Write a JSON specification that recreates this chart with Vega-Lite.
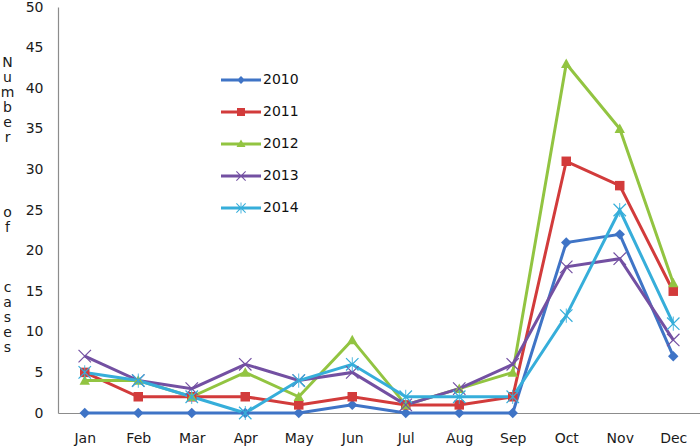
{
  "$schema": "https://vega.github.io/schema/vega-lite/v6.json",
  "width": 642,
  "height": 406,
  "autosize": {"type": "none"},
  "padding": {"left": 58, "top": 7, "right": 0, "bottom": 34},
  "config": {
    "view": {"stroke": null},
    "font": "DejaVu Sans",
    "axis": {"labelFont": "DejaVu Sans", "labelFontSize": 14, "labelColor": "#1a1a1a", "domainColor": "#8c8c8c", "domainWidth": 1.2, "ticks": false, "grid": false}
  },
  "data": {
    "values": [
      {"year": "2010", "month": "Jan", "cases": 0}, {"year": "2010", "month": "Feb", "cases": 0}, {"year": "2010", "month": "Mar", "cases": 0}, {"year": "2010", "month": "Apr", "cases": 0}, {"year": "2010", "month": "May", "cases": 0}, {"year": "2010", "month": "Jun", "cases": 1}, {"year": "2010", "month": "Jul", "cases": 0}, {"year": "2010", "month": "Aug", "cases": 0}, {"year": "2010", "month": "Sep", "cases": 0}, {"year": "2010", "month": "Oct", "cases": 21}, {"year": "2010", "month": "Nov", "cases": 22}, {"year": "2010", "month": "Dec", "cases": 7},
      {"year": "2011", "month": "Jan", "cases": 5}, {"year": "2011", "month": "Feb", "cases": 2}, {"year": "2011", "month": "Mar", "cases": 2}, {"year": "2011", "month": "Apr", "cases": 2}, {"year": "2011", "month": "May", "cases": 1}, {"year": "2011", "month": "Jun", "cases": 2}, {"year": "2011", "month": "Jul", "cases": 1}, {"year": "2011", "month": "Aug", "cases": 1}, {"year": "2011", "month": "Sep", "cases": 2}, {"year": "2011", "month": "Oct", "cases": 31}, {"year": "2011", "month": "Nov", "cases": 28}, {"year": "2011", "month": "Dec", "cases": 15},
      {"year": "2012", "month": "Jan", "cases": 4}, {"year": "2012", "month": "Feb", "cases": 4}, {"year": "2012", "month": "Mar", "cases": 2}, {"year": "2012", "month": "Apr", "cases": 5}, {"year": "2012", "month": "May", "cases": 2}, {"year": "2012", "month": "Jun", "cases": 9}, {"year": "2012", "month": "Jul", "cases": 1}, {"year": "2012", "month": "Aug", "cases": 3}, {"year": "2012", "month": "Sep", "cases": 5}, {"year": "2012", "month": "Oct", "cases": 43}, {"year": "2012", "month": "Nov", "cases": 35}, {"year": "2012", "month": "Dec", "cases": 16},
      {"year": "2013", "month": "Jan", "cases": 7}, {"year": "2013", "month": "Feb", "cases": 4}, {"year": "2013", "month": "Mar", "cases": 3}, {"year": "2013", "month": "Apr", "cases": 6}, {"year": "2013", "month": "May", "cases": 4}, {"year": "2013", "month": "Jun", "cases": 5}, {"year": "2013", "month": "Jul", "cases": 1}, {"year": "2013", "month": "Aug", "cases": 3}, {"year": "2013", "month": "Sep", "cases": 6}, {"year": "2013", "month": "Oct", "cases": 18}, {"year": "2013", "month": "Nov", "cases": 19}, {"year": "2013", "month": "Dec", "cases": 9},
      {"year": "2014", "month": "Jan", "cases": 5}, {"year": "2014", "month": "Feb", "cases": 4}, {"year": "2014", "month": "Mar", "cases": 2}, {"year": "2014", "month": "Apr", "cases": 0}, {"year": "2014", "month": "May", "cases": 4}, {"year": "2014", "month": "Jun", "cases": 6}, {"year": "2014", "month": "Jul", "cases": 2}, {"year": "2014", "month": "Aug", "cases": 2}, {"year": "2014", "month": "Sep", "cases": 2}, {"year": "2014", "month": "Oct", "cases": 12}, {"year": "2014", "month": "Nov", "cases": 25}, {"year": "2014", "month": "Dec", "cases": 11}
    ]
  },
  "encoding": {
    "x": {
      "field": "month", "type": "ordinal",
      "sort": ["Jan", "Feb", "Mar", "Apr", "May", "Jun", "Jul", "Aug", "Sep", "Oct", "Nov", "Dec"],
      "scale": {"type": "point", "padding": 0.5},
      "axis": {"title": null, "labelAngle": 0, "labelPadding": 18}
    },
    "y": {
      "field": "cases", "type": "quantitative",
      "scale": {"domain": [0, 50], "nice": false},
      "axis": {
        "values": [0, 5, 10, 15, 20, 25, 30, 35, 40, 45, 50],
        "labelPadding": 15,
        "title": ["N", "u", "m", "b", "e", "r", "\u200b", "\u200b", "\u200b", "\u200b", "o", "f", "\u200b", "\u200b", "\u200b", "c", "a", "s", "e", "s"],
        "titleAngle": 0,
        "titleAlign": "center",
        "titleBaseline": "middle",
        "titleX": -51,
        "titleY": 55,
        "titleLineHeight": 15,
        "titleFontSize": 14,
        "titleFontWeight": "normal",
        "titleColor": "#1a1a1a"
      }
    },
    "color": {
      "field": "year", "type": "nominal",
      "scale": {"domain": ["2010", "2011", "2012", "2013", "2014"], "range": ["#3F74C6", "#D23B3B", "#92C441", "#7350A2", "#36AEDA"]},
      "legend": {
        "title": null,
        "orient": "none",
        "legendX": 176,
        "legendY": 66,
        "padding": 0,
        "symbolSize": 100,
        "labelOffset": 15,
        "rowPadding": 18,
        "labelFontSize": 14,
        "labelColor": "#111111",
        "symbolStrokeWidth": 0,
        "encode": {
          "symbols": {
            "update": {
              "shape": {"signal": "datum.value === '2010' ? 'M-4,-0.3H4V0.3H-4Z M0,-0.8L0.8,0L0,0.8L-0.8,0Z' : datum.value === '2011' ? 'M-4,-0.3H4V0.3H-4Z M-0.8,-0.8H0.8V0.8H-0.8Z' : datum.value === '2012' ? 'M-4,-0.3H4V0.3H-4Z M0,-0.9L0.9,0.6H-0.9Z' : datum.value === '2013' ? 'M-4,-0.3H4V0.3H-4Z M-1,-0.85L-0.85,-1L1,0.85L0.85,1Z M1,-0.85L-0.85,1L-1,0.85L0.85,-1Z' : 'M-4,-0.3H4V0.3H-4Z M-1,-0.85L-0.85,-1L1,0.85L0.85,1Z M1,-0.85L-0.85,1L-1,0.85L0.85,-1Z M-0.09,-1.1H0.09V1.1H-0.09Z'"},
              "fill": {"scale": "color", "field": "value"},
              "stroke": {"value": "transparent"},
              "opacity": {"value": 1}
            }
          }
        }
      }
    }
  },
  "layer": [
    {"mark": {"type": "line", "strokeWidth": 3}},
    {
      "transform": [{"filter": "datum.year === '2010'"}],
      "mark": {"type": "point", "filled": true, "size": 90, "opacity": 1, "shape": "M0,-1.1L1.1,0L0,1.1L-1.1,0Z"}
    },
    {
      "transform": [{"filter": "datum.year === '2011'"}],
      "mark": {"type": "point", "filled": true, "size": 90, "opacity": 1, "shape": "M-1,-1H1V1H-1Z"}
    },
    {
      "transform": [{"filter": "datum.year === '2012'"}],
      "mark": {"type": "point", "filled": true, "size": 90, "opacity": 1, "shape": "M0,-1.1L1.1,0.9H-1.1Z"}
    },
    {
      "transform": [{"filter": "datum.year === '2013'"}],
      "mark": {"type": "point", "filled": true, "size": 90, "opacity": 1, "shape": "M-1.4,-1.22L-1.22,-1.4L1.4,1.22L1.22,1.4Z M1.4,-1.22L-1.22,1.4L-1.4,1.22L1.22,-1.4Z"}
    },
    {
      "transform": [{"filter": "datum.year === '2014'"}],
      "mark": {"type": "point", "filled": true, "size": 90, "opacity": 1, "shape": "M-1.4,-1.22L-1.22,-1.4L1.4,1.22L1.22,1.4Z M1.4,-1.22L-1.22,1.4L-1.4,1.22L1.22,-1.4Z M-0.09,-1.5H0.09V1.5H-0.09Z"}
    }
  ]
}
